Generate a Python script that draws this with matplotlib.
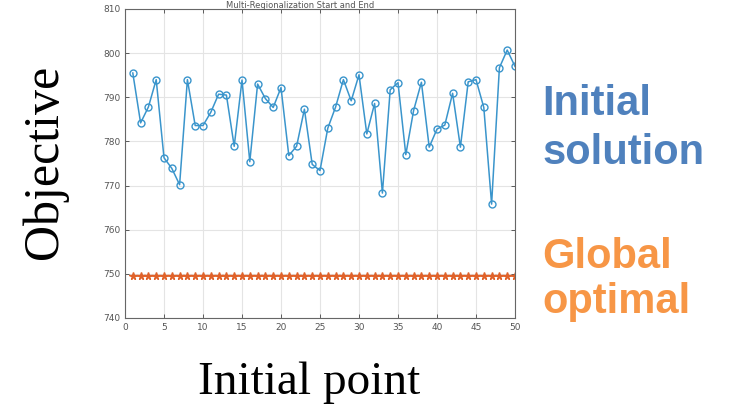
import matplotlib
matplotlib.use("Agg")
import matplotlib.pyplot as plt
import numpy as np

points = list(range(1, 51))
initial_solution = [795.5, 784.2, 787.8, 794.0, 776.3, 773.9, 770.2, 794.0, 783.6, 783.6,
                    786.6, 790.7, 790.5, 778.9, 793.9, 775.4, 793.0, 789.7, 787.7, 792.2,
                    776.8, 778.9, 787.3, 774.8, 773.4, 783.0, 787.8, 794.0, 789.2, 795.1,
                    781.7, 788.6, 768.3, 791.7, 793.3, 777.0, 787.0, 793.4, 778.7, 782.8,
                    783.7, 790.9, 778.7, 793.5, 794.0, 787.7, 765.8, 796.7, 800.7, 797.0]
global_optimal = [749.6] * 50
xticks = [0, 5, 10, 15, 20, 25, 30, 35, 40, 45, 50]
yticks = [740, 750, 760, 770, 780, 790, 800, 810]

W, H = 733, 412
fig = plt.figure(figsize=(W / 100, H / 100), dpi=100)
ax = fig.add_axes([125 / W, 1 - 318 / H, 390 / W, 309 / H])

ax.plot(points, initial_solution, color="#3a95cc", lw=1.1, marker="o", ms=5,
        mfc="none", mec="#3a95cc", mew=1.0)
ax.plot(points, global_optimal, color="#e0622a", lw=1.1, marker="*", ms=5.5,
        mfc="#e0622a", mec="#e0622a")

ax.set_xlim(0, 50)
ax.set_ylim(740, 810)
ax.set_xticks(xticks)
ax.set_yticks(yticks)
ax.grid(True, color="#e4e4e4", lw=0.8)
ax.set_axisbelow(True)
ax.tick_params(direction="in", top=True, right=True, labelsize=6.5,
               colors="#444444", length=3, width=0.6)
ax.tick_params(axis="both", labelcolor="#555555")
for s in ax.spines.values():
    s.set_color("#666666")
    s.set_linewidth(0.8)

fig.text(300 / W, 1 - 0.5 / H, "Multi-Regionalization Start and End", fontsize=6,
         color="#555555", ha="center", va="top")

fig.text(45 / W, 1 - 162 / H, "Objective", rotation=90, ha="center", va="center",
         family="Liberation Serif", fontsize=36, color="black")
fig.text(309 / W, 1 - 383 / H, "Initial point", ha="center", va="center",
         family="Liberation Serif", fontsize=34, color="black")

blue = "#4f81bd"
orange = "#f79646"
fig.text(542 / W, 1 - 115 / H, "Initial", ha="left", va="baseline",
         family="Liberation Sans", weight="bold", fontsize=30, color=blue)
fig.text(542 / W, 1 - 164 / H, "solution", ha="left", va="baseline",
         family="Liberation Sans", weight="bold", fontsize=30, color=blue)
fig.text(542 / W, 1 - 268 / H, "Global", ha="left", va="baseline",
         family="Liberation Sans", weight="bold", fontsize=30, color=orange)
fig.text(542 / W, 1 - 313 / H, "optimal", ha="left", va="baseline",
         family="Liberation Sans", weight="bold", fontsize=30, color=orange)

fig.savefig("out.png", dpi=100)
